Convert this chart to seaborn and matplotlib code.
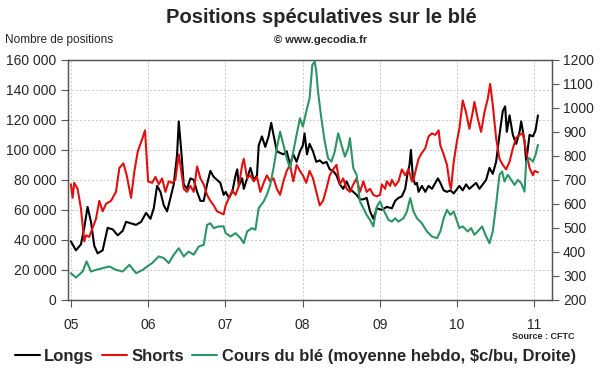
import matplotlib
matplotlib.use("Agg")
import matplotlib.pyplot as plt
import seaborn as sns
import pandas as pd
from matplotlib.ticker import FuncFormatter

# weekly data, x in decimal years
longs_t = [2005.0, 2005.065, 2005.13, 2005.173, 2005.216, 2005.26, 2005.303, 2005.346, 2005.411,
           2005.476, 2005.541, 2005.606, 2005.671, 2005.714, 2005.779, 2005.844, 2005.909, 2005.974,
           2006.03, 2006.073, 2006.116, 2006.16, 2006.203, 2006.246, 2006.289, 2006.332, 2006.375,
           2006.397, 2006.431, 2006.461, 2006.504, 2006.547, 2006.591, 2006.634, 2006.677, 2006.72,
           2006.763, 2006.806, 2006.849, 2006.892, 2006.935, 2006.978,
           2007.004, 2007.047, 2007.09, 2007.132, 2007.154, 2007.175, 2007.218, 2007.239, 2007.282,
           2007.325, 2007.368, 2007.41, 2007.432, 2007.474, 2007.517, 2007.56, 2007.594, 2007.624,
           2007.667, 2007.709, 2007.752, 2007.795, 2007.838, 2007.88, 2007.923, 2007.966,
           2008.004, 2008.026, 2008.057, 2008.091, 2008.135, 2008.178, 2008.222, 2008.265, 2008.309,
           2008.352, 2008.396, 2008.439, 2008.483, 2008.526, 2008.57, 2008.613, 2008.657, 2008.7,
           2008.743, 2008.787, 2008.83, 2008.874, 2008.917, 2008.961,
           2009.026, 2009.091, 2009.156, 2009.199, 2009.242, 2009.286, 2009.329, 2009.359, 2009.385,
           2009.403, 2009.429, 2009.459, 2009.481, 2009.502, 2009.545, 2009.589, 2009.632, 2009.675,
           2009.719, 2009.753, 2009.784, 2009.827, 2009.87, 2009.913, 2009.957, 2009.987,
           2010.03, 2010.074, 2010.117, 2010.16, 2010.203, 2010.247, 2010.29, 2010.333, 2010.377,
           2010.42, 2010.463, 2010.506, 2010.55, 2010.593, 2010.623, 2010.645, 2010.68, 2010.723,
           2010.766, 2010.81, 2010.831, 2010.874, 2010.896, 2010.939, 2010.983, 2011.017, 2011.048]
longs = [39, 33, 37, 48, 62, 52, 36, 31, 33,
         48, 47, 43, 46, 52, 51, 50, 52, 58,
         54, 61, 76, 72, 63, 59, 68, 77, 97,
         119, 98, 77, 74, 81, 80, 72, 66, 66,
         77, 86, 82, 80, 78, 70,
         72, 68, 72, 83, 87, 76, 81, 74, 81,
         88, 80, 83, 103, 109, 102, 109, 118, 110,
         99, 98, 97, 99, 90, 97, 92, 99,
         103, 111, 97, 104, 99, 92, 93, 91, 92,
         87, 86, 83, 77, 74, 79, 74, 72, 70,
         67, 67, 68, 59, 54, 61,
         60, 62, 61, 66, 68, 69, 74, 84, 90,
         100, 81, 77, 78, 72, 76, 72, 76, 74,
         78, 81, 78, 73, 72, 73, 71, 73,
         76, 73, 77, 74, 76, 78, 74, 77, 80,
         88, 84, 92, 110, 126, 129, 112, 123, 110,
         104, 112, 119, 106, 92, 110, 109, 113, 123]

shorts_t = [2005.0, 2005.022, 2005.043, 2005.087, 2005.13, 2005.173, 2005.195, 2005.238, 2005.281,
            2005.325, 2005.368, 2005.411, 2005.455, 2005.519, 2005.584, 2005.628, 2005.68, 2005.723,
            2005.779, 2005.823, 2005.866, 2005.922, 2005.96,
            2006.0, 2006.052, 2006.095, 2006.138, 2006.181, 2006.224, 2006.267, 2006.31, 2006.353,
            2006.397, 2006.418, 2006.461, 2006.504, 2006.547, 2006.591, 2006.634, 2006.677, 2006.72,
            2006.763, 2006.806, 2006.849, 2006.892, 2006.935, 2006.978,
            2007.004, 2007.047, 2007.09, 2007.132, 2007.175, 2007.218, 2007.239, 2007.282, 2007.325,
            2007.368, 2007.41, 2007.453, 2007.496, 2007.538, 2007.581, 2007.624, 2007.667, 2007.709,
            2007.752, 2007.795, 2007.838, 2007.88, 2007.923, 2007.966,
            2008.004, 2008.048, 2008.091, 2008.135, 2008.178, 2008.222, 2008.265, 2008.309, 2008.352,
            2008.396, 2008.439, 2008.483, 2008.526, 2008.57, 2008.613, 2008.657, 2008.7, 2008.743,
            2008.787, 2008.83, 2008.874, 2008.917, 2008.961,
            2009.004, 2009.026, 2009.069, 2009.091, 2009.134, 2009.156, 2009.199, 2009.242, 2009.286,
            2009.329, 2009.372, 2009.416, 2009.437, 2009.472, 2009.502, 2009.545, 2009.589, 2009.632,
            2009.675, 2009.719, 2009.762, 2009.784, 2009.827, 2009.87, 2009.905, 2009.922, 2009.957,
            2010.0, 2010.03, 2010.074, 2010.117, 2010.16, 2010.203, 2010.225, 2010.268, 2010.312,
            2010.355, 2010.398, 2010.429, 2010.463, 2010.506, 2010.55, 2010.593, 2010.636, 2010.68,
            2010.723, 2010.766, 2010.81, 2010.853, 2010.896, 2010.939, 2010.983, 2011.004, 2011.048]
shorts = [77, 68, 78, 74, 61, 39, 43, 42, 48,
          54, 66, 59, 64, 66, 72, 88, 91, 83,
          68, 86, 99, 107, 113,
          79, 78, 82, 77, 81, 72, 79, 78, 80,
          97, 90, 74, 72, 76, 72, 89, 81, 77,
          70, 66, 63, 59, 58, 57,
          63, 68, 73, 70, 76, 90, 94, 81, 83,
          79, 82, 72, 78, 83, 79, 81, 74, 70,
          79, 86, 90, 79, 90, 86,
          83, 78, 86, 81, 72, 63, 66, 74, 83,
          87, 90, 77, 81, 74, 72, 77, 81, 72,
          79, 72, 74, 70, 69,
          70, 77, 74, 79, 76, 80, 76, 79, 87,
          83, 87, 79, 80, 88, 94, 98, 101, 109,
          111, 110, 113, 103, 97, 90, 77, 74, 92,
          106, 114, 133, 125, 114, 125, 132, 121, 112,
          125, 134, 144, 130, 108, 94, 90, 87, 92,
          101, 108, 110, 111, 99, 88, 83, 86, 85]

wheat_t = [2005.0, 2005.065, 2005.152, 2005.203, 2005.26, 2005.325, 2005.411, 2005.498, 2005.584,
           2005.671, 2005.758, 2005.844, 2005.931, 2006.017,
           2006.052, 2006.138, 2006.203, 2006.267, 2006.332, 2006.397, 2006.461, 2006.526, 2006.591,
           2006.655, 2006.72, 2006.763, 2006.806, 2006.849, 2006.914, 2006.978,
           2007.004, 2007.068, 2007.132, 2007.197, 2007.239, 2007.282, 2007.346, 2007.389, 2007.432,
           2007.496, 2007.538, 2007.581, 2007.624, 2007.667, 2007.709, 2007.752, 2007.795, 2007.838,
           2007.88, 2007.923, 2007.966,
           2008.004, 2008.048, 2008.091, 2008.126, 2008.157, 2008.178, 2008.2, 2008.243, 2008.287,
           2008.33, 2008.374, 2008.417, 2008.461, 2008.504, 2008.548, 2008.591, 2008.613, 2008.657,
           2008.7, 2008.743, 2008.787, 2008.83, 2008.874, 2008.917, 2008.961,
           2009.004, 2009.048, 2009.113, 2009.156, 2009.199, 2009.242, 2009.307, 2009.351, 2009.394,
           2009.437, 2009.481, 2009.545, 2009.61, 2009.675, 2009.74, 2009.784, 2009.827, 2009.87,
           2009.913, 2009.957,
           2010.03, 2010.074, 2010.139, 2010.182, 2010.225, 2010.268, 2010.325, 2010.368, 2010.42,
           2010.463, 2010.506, 2010.55, 2010.584, 2010.615, 2010.658, 2010.701, 2010.745, 2010.788,
           2010.831, 2010.874, 2010.896, 2010.939, 2010.983, 2011.017, 2011.048]
wheat = [311, 293, 318, 360, 318, 325, 332, 339, 325,
         318, 346, 311, 325, 346,
         353, 381, 374, 353, 388, 415, 381, 401, 388,
         422, 429, 512, 519, 499, 506, 506,
         478, 464, 478, 457, 436, 485, 499, 492, 582,
         610, 638, 679, 749, 832, 901, 846, 790, 749,
         818, 888, 957,
         922, 985, 1040, 1179, 1193, 1151, 1068, 957, 860,
         790, 776, 818, 894, 846, 797, 832, 874, 749,
         721, 610, 582, 554, 533, 506, 589,
         610, 575, 533, 526, 540, 526, 540, 568, 624,
         568, 540, 519, 485, 464, 457, 485, 540, 575,
         554, 568,
         499, 506, 485, 499, 471, 485, 506, 471, 436,
         485, 596, 721, 735, 693, 721, 700, 679, 700,
         686, 651, 776, 790, 776, 804, 846]

years = [2005, 2006, 2007, 2008, 2009, 2010, 2011]
year_labels = ["05", "06", "07", "08", "09", "10", "11"]

df_longs = pd.DataFrame({"t": longs_t, "v": [v * 1000 for v in longs]})
df_shorts = pd.DataFrame({"t": shorts_t, "v": [v * 1000 for v in shorts]})
df_wheat = pd.DataFrame({"t": wheat_t, "v": wheat})

sns.set_style("white")
plt.rcParams["font.family"] = ["Liberation Sans", "DejaVu Sans"]

c_long = "#000000"
c_short = "#e01010"
c_wheat = "#2e9466"

fig = plt.figure(figsize=(6, 3.72), dpi=100)
ax = fig.add_axes([0.113, 0.194, 0.807, 0.645])
ax2 = ax.twinx()

sns.lineplot(data=df_longs, x="t", y="v", ax=ax, color=c_long, lw=1.5, label="Longs", legend=False)
sns.lineplot(data=df_shorts, x="t", y="v", ax=ax, color=c_short, lw=1.5, label="Shorts", legend=False)
sns.lineplot(data=df_wheat, x="t", y="v", ax=ax2, color=c_wheat, lw=1.5,
             label="Cours du blé (moyenne hebdo, $c/bu, Droite)", legend=False)

ax.set_xlim(2004.96, 2011.23)
ax.set_ylim(0, 160000)
ax2.set_ylim(200, 1200)
ax.set_yticks(range(0, 160001, 20000))
ax2.set_yticks(range(200, 1201, 100))
ax.yaxis.set_major_formatter(FuncFormatter(lambda v, p: f"{int(v):,}".replace(",", " ")))
ax.set_xticks(years)
ax.set_xticklabels(year_labels)
ax.set_xlabel("")
ax.set_ylabel("")
ax2.set_ylabel("")

ax.grid(True, color="#c8c8c8", ls=(0, (2, 2)), lw=0.7)
ax.set_axisbelow(True)
for a in (ax, ax2):
    for s in a.spines.values():
        s.set_color("#555555")
        s.set_linewidth(0.9)
ax.tick_params(axis="both", direction="out", length=5, width=0.8, color="#555555",
               labelsize=10, pad=3, left=True, bottom=True)
ax.tick_params(axis="x", pad=8)
ax2.tick_params(axis="y", direction="out", length=5, width=0.8, color="#555555",
                labelsize=10, pad=3, right=True)

fig.text(0.535, 0.952, "Positions spéculatives sur le blé", ha="center", va="center",
         fontsize=14.5, fontweight="bold")
fig.text(0.535, 0.893, "© www.gecodia.fr", ha="center", va="center", fontsize=8, fontweight="bold")
fig.text(0.008, 0.893, "Nombre de positions", ha="left", va="center", fontsize=8.5)
fig.text(0.958, 0.095, "Source : CFTC", ha="right", va="center", fontsize=6.5, fontweight="bold")

handles = ax.get_lines()[:2] + ax2.get_lines()[:1]
labels = ["Longs", "Shorts", "Cours du blé (moyenne hebdo, $c/bu, Droite)"]
fig.legend(handles, labels, loc="center left", bbox_to_anchor=(0.0, 0.043), ncol=3, frameon=False,
           handlelength=1.5, handletextpad=0.25, columnspacing=0.5,
           prop={"size": 12, "weight": "bold"})

fig.savefig("out.png", dpi=100)
